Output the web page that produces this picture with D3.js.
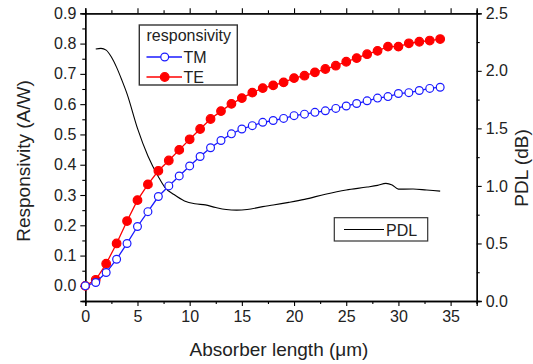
<!DOCTYPE html>
<html>
<head>
<meta charset="utf-8">
<script src="https://cdn.jsdelivr.net/npm/d3@7"></script>
<style>
  body { margin: 0; background: #fff; }
  svg { font-family: "Liberation Sans", Arial, sans-serif; }
</style>
</head>
<body>
<svg id="chart" width="533" height="364"></svg>
<script>
// absorber length (um)
const lengths = [0, 1, 2, 3, 4, 5, 6, 7, 8, 9, 10, 11, 12, 13, 14, 15, 16, 17,
  18, 19, 20, 21, 22, 23, 24, 25, 26, 27, 28, 29, 30, 31, 32, 33, 34]
const te = [0, 0.02, 0.073, 0.14, 0.214, 0.283, 0.335, 0.38, 0.414, 0.449, 0.484,
  0.518, 0.551, 0.577, 0.601, 0.62, 0.638, 0.653, 0.662, 0.672, 0.686, 0.694,
  0.705, 0.716, 0.727, 0.74, 0.752, 0.765, 0.776, 0.79, 0.79, 0.801, 0.806, 0.81, 0.815]
const tm = [0, 0.011, 0.044, 0.088, 0.14, 0.196, 0.245, 0.295, 0.33, 0.363, 0.396,
  0.427, 0.456, 0.48, 0.502, 0.518, 0.529, 0.54, 0.546, 0.553, 0.562, 0.567,
  0.573, 0.578, 0.586, 0.594, 0.602, 0.611, 0.62, 0.625, 0.635, 0.638, 0.645, 0.652, 0.656]
// PDL curve (dB)
const pdlX = [1.0, 1.5, 2.0, 2.5, 3.0, 3.5, 4.0, 5.0, 6.0, 7.0, 7.6, 8.5, 9.5, 10.5,
  11.5, 12.5, 13.5, 14.5, 15.5, 17, 18, 19.5, 21, 23, 25, 27, 28, 28.8, 29.4, 30,
  31.4, 32.7, 34]
const pdlY = [2.19, 2.195, 2.18, 2.12, 2.03, 1.92, 1.80, 1.50, 1.26, 1.08, 0.99, 0.925,
  0.87, 0.845, 0.835, 0.812, 0.795, 0.79, 0.795, 0.82, 0.834, 0.857, 0.883, 0.928,
  0.965, 0.99, 1.005, 1.022, 1.008, 0.972, 0.973, 0.964, 0.955]

const xTicks = [0, 5, 10, 15, 20, 25, 30, 35]
const xMinor = [2.5, 7.5, 12.5, 17.5, 22.5, 27.5, 32.5, 37.5]
const yTicks = [0, 0.1, 0.2, 0.3, 0.4, 0.5, 0.6, 0.7, 0.8, 0.9]
const yMinor = [-0.05, 0.05, 0.15, 0.25, 0.35, 0.45, 0.55, 0.65, 0.75, 0.85]
const y2Ticks = [0, 0.5, 1.0, 1.5, 2.0, 2.5]
const y2Minor = [0.25, 0.75, 1.25, 1.75, 2.25]

const plotL = 85.3, plotR = 476.7, plotT = 13.3, plotB = 301

const svg = d3.select('#chart')

const x = d3.scaleLinear().domain([0, 37.5]).range([plotL, plotR])
const y = d3.scaleLinear().domain([-0.05, 0.9]).range([plotB, plotT])
const y2 = d3.scaleLinear().domain([0, 2.5]).range([plotB, plotT])

const tickFont = '16px'

let styleAxis = (g) => {
  g.select('.domain').attr('stroke', '#000').attr('stroke-width', 1.3)
  g.selectAll('.tick line').attr('stroke', '#000').attr('stroke-width', 1.1)
  g.selectAll('.tick text').attr('font-size', tickFont).attr('fill', '#222')
    .attr('font-family', '"Liberation Sans", Arial, sans-serif')
}

// bottom axis
svg.append('g').attr('transform', `translate(0,${plotB})`)
  .call(d3.axisBottom(x).tickValues(xTicks).tickSize(5).tickPadding(5).tickFormat(d3.format('d')))
  .call(styleAxis)
svg.append('g').attr('transform', `translate(0,${plotB})`)
  .call(d3.axisBottom(x).tickValues(xMinor).tickSize(3).tickFormat(''))
  .call(styleAxis)
// top axis
svg.append('g').attr('transform', `translate(0,${plotT})`)
  .call(d3.axisTop(x).tickValues(xTicks).tickSize(5).tickFormat(''))
  .call(styleAxis)
svg.append('g').attr('transform', `translate(0,${plotT})`)
  .call(d3.axisTop(x).tickValues(xMinor).tickSize(3).tickFormat(''))
  .call(styleAxis)
// left axis
svg.append('g').attr('transform', `translate(${plotL},0)`)
  .call(d3.axisLeft(y).tickValues(yTicks).tickSize(5).tickPadding(4).tickFormat(d3.format('.1f')))
  .call(styleAxis)
svg.append('g').attr('transform', `translate(${plotL},0)`)
  .call(d3.axisLeft(y).tickValues(yMinor).tickSize(3).tickFormat(''))
  .call(styleAxis)
// right axis
svg.append('g').attr('transform', `translate(${plotR},0)`)
  .call(d3.axisRight(y2).tickValues(y2Ticks).tickSize(5).tickPadding(4).tickFormat(d3.format('.1f')))
  .call(styleAxis)
svg.append('g').attr('transform', `translate(${plotR},0)`)
  .call(d3.axisRight(y2).tickValues(y2Minor).tickSize(3).tickFormat(''))
  .call(styleAxis)

// axis titles
svg.append('text')
  .attr('x', 279).attr('y', 356)
  .attr('text-anchor', 'middle').attr('font-size', '19px').attr('fill', '#222')
  .text('Absorber length (μm)')
svg.append('text')
  .attr('transform', 'translate(30,161) rotate(-90)')
  .attr('text-anchor', 'middle').attr('font-size', '19px').attr('fill', '#222')
  .text('Responsivity (A/W)')
svg.append('text')
  .attr('transform', 'translate(528,168) rotate(-90)')
  .attr('text-anchor', 'middle').attr('font-size', '19px').attr('fill', '#222')
  .text('PDL (dB)')

// PDL curve
const pdl = pdlX.map((d, i) => [d, pdlY[i]])
svg.append('path')
  .datum(pdl)
  .attr('fill', 'none')
  .attr('stroke', '#000')
  .attr('stroke-width', 1.1)
  .attr('d', d3.line().x(d => x(d[0])).y(d => y2(d[1])).curve(d3.curveMonotoneX))

// responsivity series
const series = [
  {name: 'TE', vals: te, color: '#ff0000', filled: true},
  {name: 'TM', vals: tm, color: '#1a1aff', filled: false}
]
const line = d3.line().x(d => x(d[0])).y(d => y(d[1]))
series.forEach(s => {
  const pts = lengths.map((d, i) => [d, s.vals[i]])
  svg.append('path').datum(pts)
    .attr('fill', 'none').attr('stroke', s.color).attr('stroke-width', 1.3)
    .attr('d', line)
  svg.append('g').selectAll('circle')
    .data(pts)
    .join('circle')
    .attr('cx', d => x(d[0]))
    .attr('cy', d => y(d[1]))
    .attr('r', s.filled ? 4.3 : 3.9)
    .attr('fill', s.filled ? s.color : '#fff')
    .attr('stroke', s.color)
    .attr('stroke-width', 1.2)
})

// legend (responsivity)
const lg = svg.append('g')
lg.append('rect')
  .attr('x', 139.3).attr('y', 25).attr('width', 98).attr('height', 60)
  .attr('fill', '#fff').attr('stroke', '#333').attr('stroke-width', 1.4)
lg.append('text').attr('x', 146.5).attr('y', 41).attr('font-size', '16px').attr('fill', '#222')
  .text('responsivity')
const legItems = [
  {name: 'TM', color: '#1a1aff', filled: false, yy: 57},
  {name: 'TE', color: '#ff0000', filled: true, yy: 77}
]
legItems.forEach(it => {
  lg.append('line').attr('x1', 146.5).attr('x2', 182).attr('y1', it.yy).attr('y2', it.yy)
    .attr('stroke', it.color).attr('stroke-width', 1.3)
  lg.append('circle').attr('cx', 164.7).attr('cy', it.yy)
    .attr('r', it.filled ? 4.3 : 3.9)
    .attr('fill', it.filled ? it.color : '#fff')
    .attr('stroke', it.color).attr('stroke-width', 1.2)
  lg.append('text').attr('x', 183.5).attr('y', it.yy + 6).attr('font-size', '16px').attr('fill', '#222')
    .text(it.name)
})

// legend (PDL)
const lg2 = svg.append('g')
lg2.append('rect')
  .attr('x', 334.3).attr('y', 217.7).attr('width', 93.4).attr('height', 23.3)
  .attr('fill', '#fff').attr('stroke', '#333').attr('stroke-width', 1.2)
lg2.append('line').attr('x1', 344).attr('x2', 384).attr('y1', 229.5).attr('y2', 229.5)
  .attr('stroke', '#000').attr('stroke-width', 1.1)
lg2.append('text').attr('x', 386).attr('y', 235.5).attr('font-size', '16px').attr('fill', '#222')
  .text('PDL')
</script>
</body>
</html>
